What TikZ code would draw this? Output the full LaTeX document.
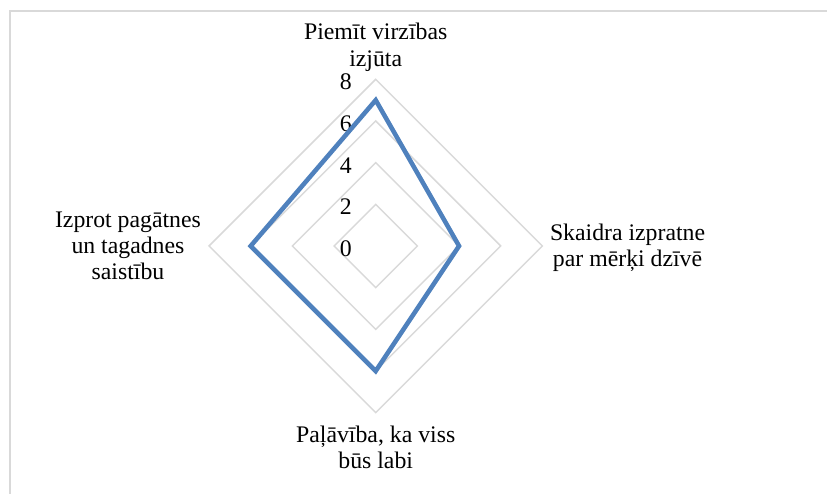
\documentclass[tikz,border=0pt]{standalone}
\usepackage{fontspec}
\setmainfont{Liberation Serif}
\newfontfamily\chartfont{Liberation Serif}
\usetikzlibrary{positioning}
\definecolor{webgray}{HTML}{D9D9D9}
\definecolor{seriesblue}{HTML}{4F81BD}

\begin{document}
\begin{tikzpicture}[
		font=\chartfont\fontsize{11.5}{12.7}\selectfont,
		web/.style = {draw=webgray, line width=0.7pt},
		series/.style = {draw=seriesblue, line width=2.2pt, line join=miter},
		axis label/.style = {align=center, inner sep=0pt},
		tick label/.style = {anchor=east, inner sep=0pt}
                   ]

%Define unit and radius
    \pgfmathsetmacro{\unit}{0.3542}
    \pgfmathsetmacro{\radius}{8*\unit}
    \coordinate (O) at (0,0);

%Canvas and frame
    \useasboundingbox (-6.387,-4.216) rectangle (7.672,4.182);
    \draw[webgray, line width=0.6pt] (-6.217,-4.216) -- (-6.217,3.995) -- (7.672,3.995);

%Draw web
    \foreach \v in {2,4,6,8}
    {
        \draw[web] (0,\v*\unit) -- (\v*\unit,0) -- (0,-\v*\unit) -- (-\v*\unit,0) -- cycle;
    }

%Tick labels
    \foreach \v in {0,2,...,8}
    {
        \node[tick label] (tick\v) at (-0.40, \v*\unit-0.045) {\v};
    }

%Data points
    \coordinate (P1) at (90:7*\unit);
    \coordinate (P2) at (0:4*\unit);
    \coordinate (P3) at (270:6*\unit);
    \coordinate (P4) at (180:6*\unit);

%Series
    \draw[series] (P1) -- (P2) -- (P3) -- (P4) -- cycle;

%Axis labels
    \node[axis label] (direction) at (0,3.38) {Piemīt virzības\\izjūta};
    \node[axis label] (purpose) at (4.282,-0.03) {Skaidra izpratne\\par mērķi dzīvē};
    \node[axis label] (trust) at (0,-3.417) {Paļāvība, ka viss\\būs labi};
    \node[axis label] (past) at (-4.211,0) {Izprot pagātnes\\un tagadnes\\saistību};

\end{tikzpicture}
\end{document}
